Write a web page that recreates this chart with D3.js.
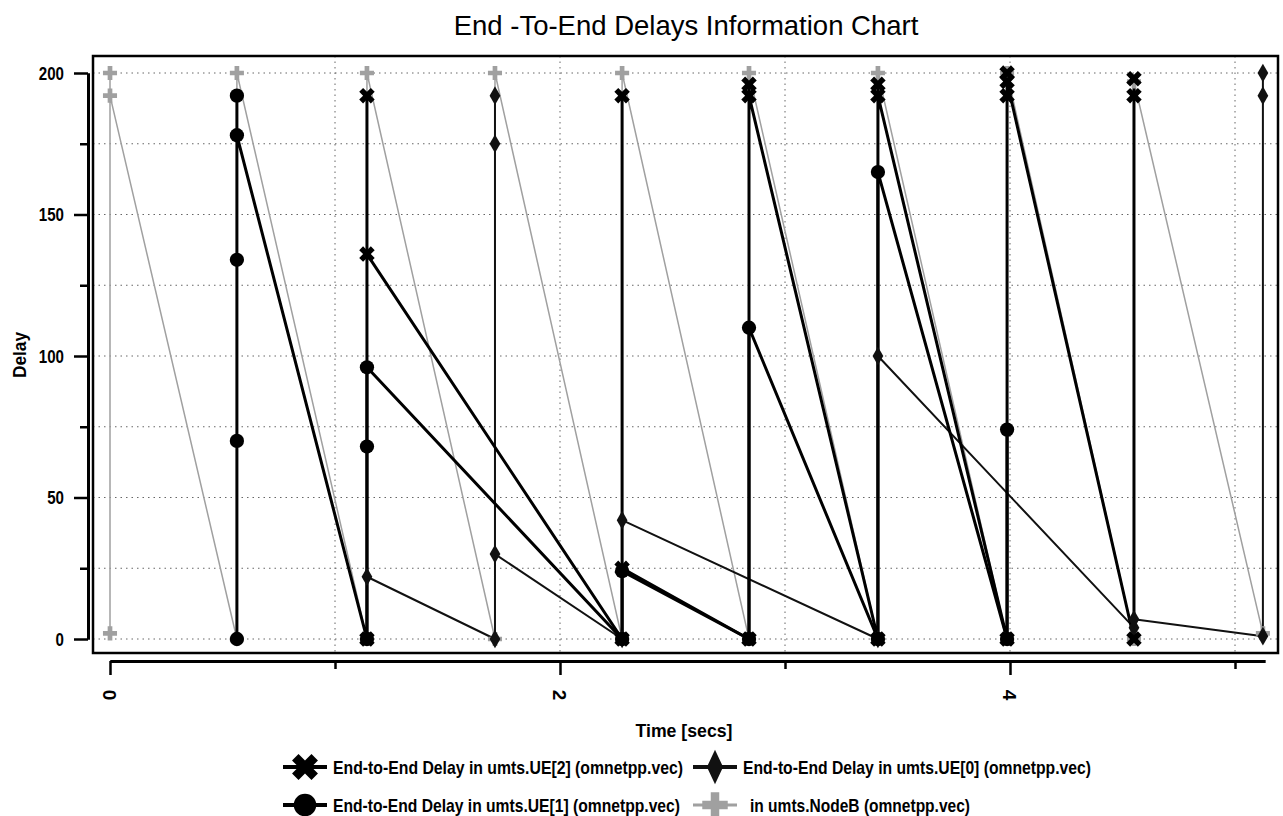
<!DOCTYPE html>
<html>
<head>
<meta charset="utf-8">
<script src="https://cdn.jsdelivr.net/npm/d3@7"></script>
<style>
body { margin: 0; background: #fff; }
text { font-family: "Liberation Sans Narrow", "Arial Narrow", "Liberation Sans", Arial, sans-serif; font-weight: bold; fill: #000; }
text.title { font-family: "Liberation Sans", Arial, sans-serif; font-weight: normal; }
</style>
</head>
<body>
<svg id="chart" width="1283" height="816"></svg>
<script>
// delays, time in secs
const ue2Time  = [1.142, 1.142, 1.142, 2.276, 2.276, 2.276, 2.840, 2.840, 2.840, 3.413, 3.413, 3.413, 3.987, 3.987, 3.987, 3.987, 4.551, 4.551, 4.551]
const ue2Delay = [0, 192, 136, 0, 192, 25, 0, 196, 192, 0, 196, 192, 0, 192, 200, 197, 0, 192, 198]

const ue0Time  = [1.142, 1.711, 1.711, 1.711, 1.711, 2.276, 2.276, 3.413, 3.413, 4.551, 4.551, 5.124, 5.124, 5.124]
const ue0Delay = [22, 0, 192, 175, 30, 0, 42, 0, 100, 4, 7, 1, 192, 200]

const ue1Time  = [0.564, 0.564, 0.564, 0.564, 0.564, 1.142, 1.142, 1.142, 2.276, 2.276, 2.840, 2.840, 3.413, 3.413, 3.987, 3.987]
const ue1Delay = [0, 70, 134, 192, 178, 0, 68, 96, 0, 24, 0, 110, 0, 165, 0, 74]

const nodeBTime  = [0, 0, 0, 0.564, 0.564, 1.142, 1.142, 1.711, 1.711, 2.276, 2.276, 2.840, 2.840, 3.413, 3.413, 3.987, 3.987, 4.551, 4.551, 5.124]
const nodeBDelay = [2, 200, 192, 0, 200, 0, 200, 0, 200, 0, 200, 0, 200, 0, 200, 0, 200, 0, 197, 2]

const yMajor = [0, 50, 100, 150, 200]
const yMinor = [25, 75, 125, 175]
const xMajor = [0, 2, 4]
const xMinor = [1, 3, 5]
const xGrid = [1, 2, 3, 4, 5]
const yGrid = [0, 25, 50, 75, 100, 125, 150, 175, 200]

const titleText = 'End -To-End Delays Information Chart'
const legendLabels = [
  'End-to-End Delay in umts.UE[2] (omnetpp.vec)',
  'End-to-End Delay in umts.UE[0] (omnetpp.vec)',
  'End-to-End Delay in umts.UE[1] (omnetpp.vec)',
  'in umts.NodeB (omnetpp.vec)'
]

const svg = d3.select('#chart')
const frame = {left: 93, top: 56, right: 1278, bottom: 653}

const x = d3.scaleLinear().domain([0, 5]).range([110, 1235])
const y = d3.scaleLinear().domain([0, 200]).range([639, 73])

svg.append('rect').attr('width', 1283).attr('height', 816).attr('fill', '#fff')

// title
svg.append('text')
  .attr('class', 'title')
  .attr('x', 686).attr('y', 35)
  .attr('text-anchor', 'middle')
  .style('font-size', '27.5px')
  .text(titleText)

// grid
const grid = svg.append('g').attr('stroke', '#666').attr('stroke-width', 1).attr('stroke-dasharray', '1.5,4')
grid.selectAll('.hg').data(yGrid).enter().append('line')
  .attr('x1', frame.left).attr('x2', frame.right)
  .attr('y1', d => y(d)).attr('y2', d => y(d))
grid.selectAll('.vg').data(xGrid).enter().append('line')
  .attr('x1', d => x(d)).attr('x2', d => x(d))
  .attr('y1', frame.top).attr('y2', frame.bottom)

// series (legend order)
const series = [
  {name: 'ue2', t: ue2Time, v: ue2Delay, color: '#000', width: 3, symbol: d3.symbolCross, rot: 45, size: 150},
  {name: 'ue0', t: ue0Time, v: ue0Delay, color: '#111', width: 2, symbol: d3.symbolDiamond, rot: 0, size: 100},
  {name: 'ue1', t: ue1Time, v: ue1Delay, color: '#000', width: 3, symbol: d3.symbolCircle, rot: 0, size: 160},
  {name: 'nodeB', t: nodeBTime, v: nodeBDelay, color: '#a0a0a0', width: 1.5, symbol: d3.symbolCross, rot: 0, size: 110}
]
// gray NodeB underneath, thick ones on top
const lineOrder = [3, 1, 2, 0]
const markOrder = [3, 1, 0, 2]

const line = (s) => d3.line()
  .x((d, i) => x(s.t[i]))
  .y((d, i) => y(s.v[i]))(s.v)

const plot = svg.append('g')
lineOrder.forEach(k => {
  const s = series[k]
  plot.append('path')
    .attr('d', line(s))
    .attr('fill', 'none')
    .attr('stroke', s.color)
    .attr('stroke-width', s.width)
    .attr('stroke-linejoin', 'round')
})
markOrder.forEach(k => {
  const s = series[k]
  plot.selectAll('.m-' + s.name)
    .data(s.v)
    .enter()
    .append('path')
    .attr('d', d3.symbol(s.symbol, s.size))
    .attr('transform', (d, i) => 'translate(' + x(s.t[i]) + ',' + y(d) + ')rotate(' + s.rot + ')')
    .attr('fill', s.color)
})

// frame
svg.append('rect')
  .attr('x', frame.left).attr('y', frame.top)
  .attr('width', frame.right - frame.left).attr('height', frame.bottom - frame.top)
  .attr('fill', 'none').attr('stroke', '#000').attr('stroke-width', 2.5)

// y axis
const yAxisG = svg.append('g').attr('transform', 'translate(88,0)')
yAxisG.call(d3.axisLeft(y).tickValues(yMajor).tickSize(14).tickSizeOuter(0).tickPadding(10))
yAxisG.append('g').call(d3.axisLeft(y).tickValues(yMinor).tickSize(8).tickSizeOuter(0).tickFormat(''))
yAxisG.selectAll('path.domain').attr('stroke-width', 3)
yAxisG.selectAll('.tick line').attr('stroke-width', 2.5)
yAxisG.selectAll('.tick text')
  .attr('font-family', null)
  .style('font-size', '19px')
  .each(function (d) {
    const n = String(d).length
    d3.select(this).attr('textLength', n * 8.4).attr('lengthAdjust', 'spacingAndGlyphs')
  })

svg.append('text')
  .attr('transform', 'translate(26,355)rotate(-90)')
  .attr('text-anchor', 'middle')
  .style('font-size', '19px')
  .attr('textLength', 46).attr('lengthAdjust', 'spacingAndGlyphs')
  .text('Delay')

// x axis
const xAx = x.copy().domain([0, 5.133]).range([x(0), x(5.133)])
const xAxisG = svg.append('g').attr('transform', 'translate(0,661)')
xAxisG.call(d3.axisBottom(xAx).tickValues(xMajor).tickSize(14).tickSizeOuter(0).tickFormat(''))
xAxisG.append('g').call(d3.axisBottom(xAx).tickValues(xMinor).tickSize(8).tickSizeOuter(0).tickFormat(''))
xAxisG.selectAll('path.domain').attr('stroke-width', 3)
xAxisG.selectAll('.tick line').attr('stroke-width', 2.5)
xAxisG.selectAll('.xlab').data(xMajor).enter().append('text')
  .attr('transform', d => 'translate(' + xAx(d) + ',34)rotate(90)')
  .attr('text-anchor', 'middle')
  .attr('dy', '0.35em')
  .style('font-size', '19px')
  .text(d => d)

svg.append('text')
  .attr('x', 684).attr('y', 737)
  .attr('text-anchor', 'middle')
  .style('font-size', '19px')
  .attr('textLength', 97).attr('lengthAdjust', 'spacingAndGlyphs')
  .text('Time [secs]')

// legend
const legendPos = [[283, 767], [693, 767], [283, 805], [693, 805]]
const legendTextW = [350, 348, 347, 220]
const legendSize = [420, 280, 400, 360]
const legend = svg.append('g')
series.forEach((s, i) => {
  const [lx, ly] = legendPos[i]
  const g = legend.append('g').attr('transform', 'translate(' + lx + ',' + ly + ')')
  g.append('line').attr('x1', 0).attr('x2', 44).attr('y1', 0).attr('y2', 0)
    .attr('stroke', s.color).attr('stroke-width', s.name === 'nodeB' ? 3 : 4)
  g.append('path')
    .attr('d', d3.symbol(s.symbol, legendSize[i]))
    .attr('transform', 'translate(22,0)rotate(' + s.rot + ')' + (s.name === 'ue0' ? 'scale(0.9,1.1)' : ''))
    .attr('fill', s.color)
  g.append('text')
    .attr('x', s.name === 'nodeB' ? 57 : 50)
    .attr('y', 7)
    .style('font-size', '19px')
    .attr('textLength', legendTextW[i]).attr('lengthAdjust', 'spacingAndGlyphs')
    .text(legendLabels[i])
})
</script>
</body>
</html>
